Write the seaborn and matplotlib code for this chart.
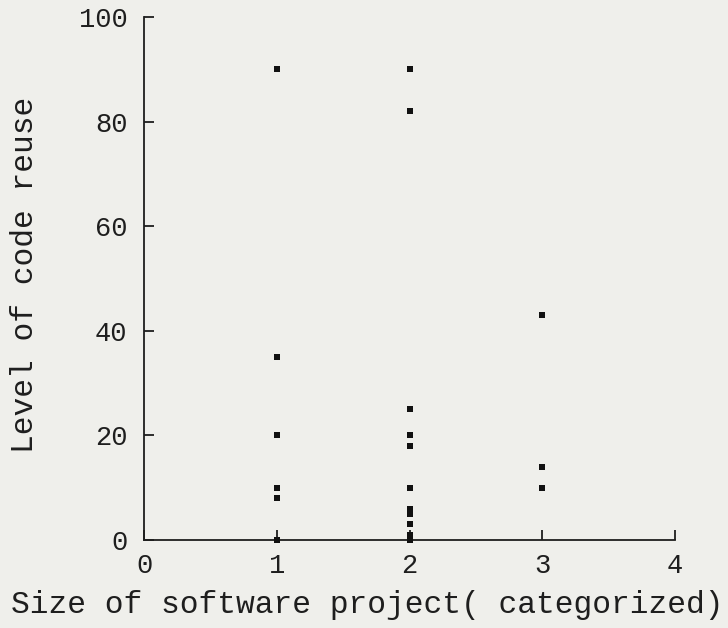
import matplotlib
matplotlib.use("Agg")
import matplotlib.pyplot as plt
import numpy as np
import pandas as pd
import seaborn as sns

# Project size category and the reuse level observed for each project
size_small = [1, 1, 1, 1, 1, 1]
reuse_small = [90, 35, 20, 10, 8, 0]

size_medium = [2, 2, 2, 2, 2, 2, 2, 2, 2, 2, 2]
reuse_medium = [90, 82, 25, 20, 18, 10, 6, 5, 3, 1, 0]

size_large = [3, 3, 3]
reuse_large = [43, 14, 10]

x_ticks = [0, 1, 2, 3, 4]
y_ticks = [0, 20, 40, 60, 80, 100]

df = pd.DataFrame({
    "size": size_small + size_medium + size_large,
    "reuse": reuse_small + reuse_medium + reuse_large,
})

sns.set_style("ticks")
bg = "#efefeb"
ink = "#1e1e1e"
plt.rcParams["font.family"] = ["Liberation Mono", "DejaVu Sans Mono"]

W, H = 728, 628
fig = plt.figure(figsize=(W / 100, H / 100), dpi=100, facecolor=bg)
ax = fig.add_axes([0.198, 0.140, 0.729, 0.833], facecolor=bg)

sns.scatterplot(data=df, x="size", y="reuse", marker="s", s=20,
                color="#111111", linewidth=0, ax=ax, clip_on=False, zorder=3)

ax.set_xlim(0, 4)
ax.set_ylim(0, 100)
ax.set_xticks(x_ticks)
ax.set_yticks(y_ticks)
ax.set_xticklabels([str(v) for v in x_ticks])
ax.set_yticklabels([str(v) for v in y_ticks])

for side in ("top", "right"):
    ax.spines[side].set_visible(False)
for side in ("left", "bottom"):
    ax.spines[side].set_color(ink)
    ax.spines[side].set_linewidth(1.3)

ax.tick_params(axis="both", direction="in", length=7, width=1.3, color=ink,
               labelsize=19.5, labelcolor=ink)
ax.tick_params(axis="y", pad=12)
ax.tick_params(axis="x", pad=9)

ax.set_xlabel("")
ax.set_ylabel("")
fig.text(367 / W, 1 - 605 / H, "Size of software project( categorized)",
         fontsize=22.5, color=ink, ha="center", va="center")
fig.text(25 / W, 1 - 275 / H, "Level of code reuse", fontsize=22.5,
         color=ink, ha="center", va="center", rotation=90)

fig.savefig("out.png", dpi=100, facecolor=bg)
